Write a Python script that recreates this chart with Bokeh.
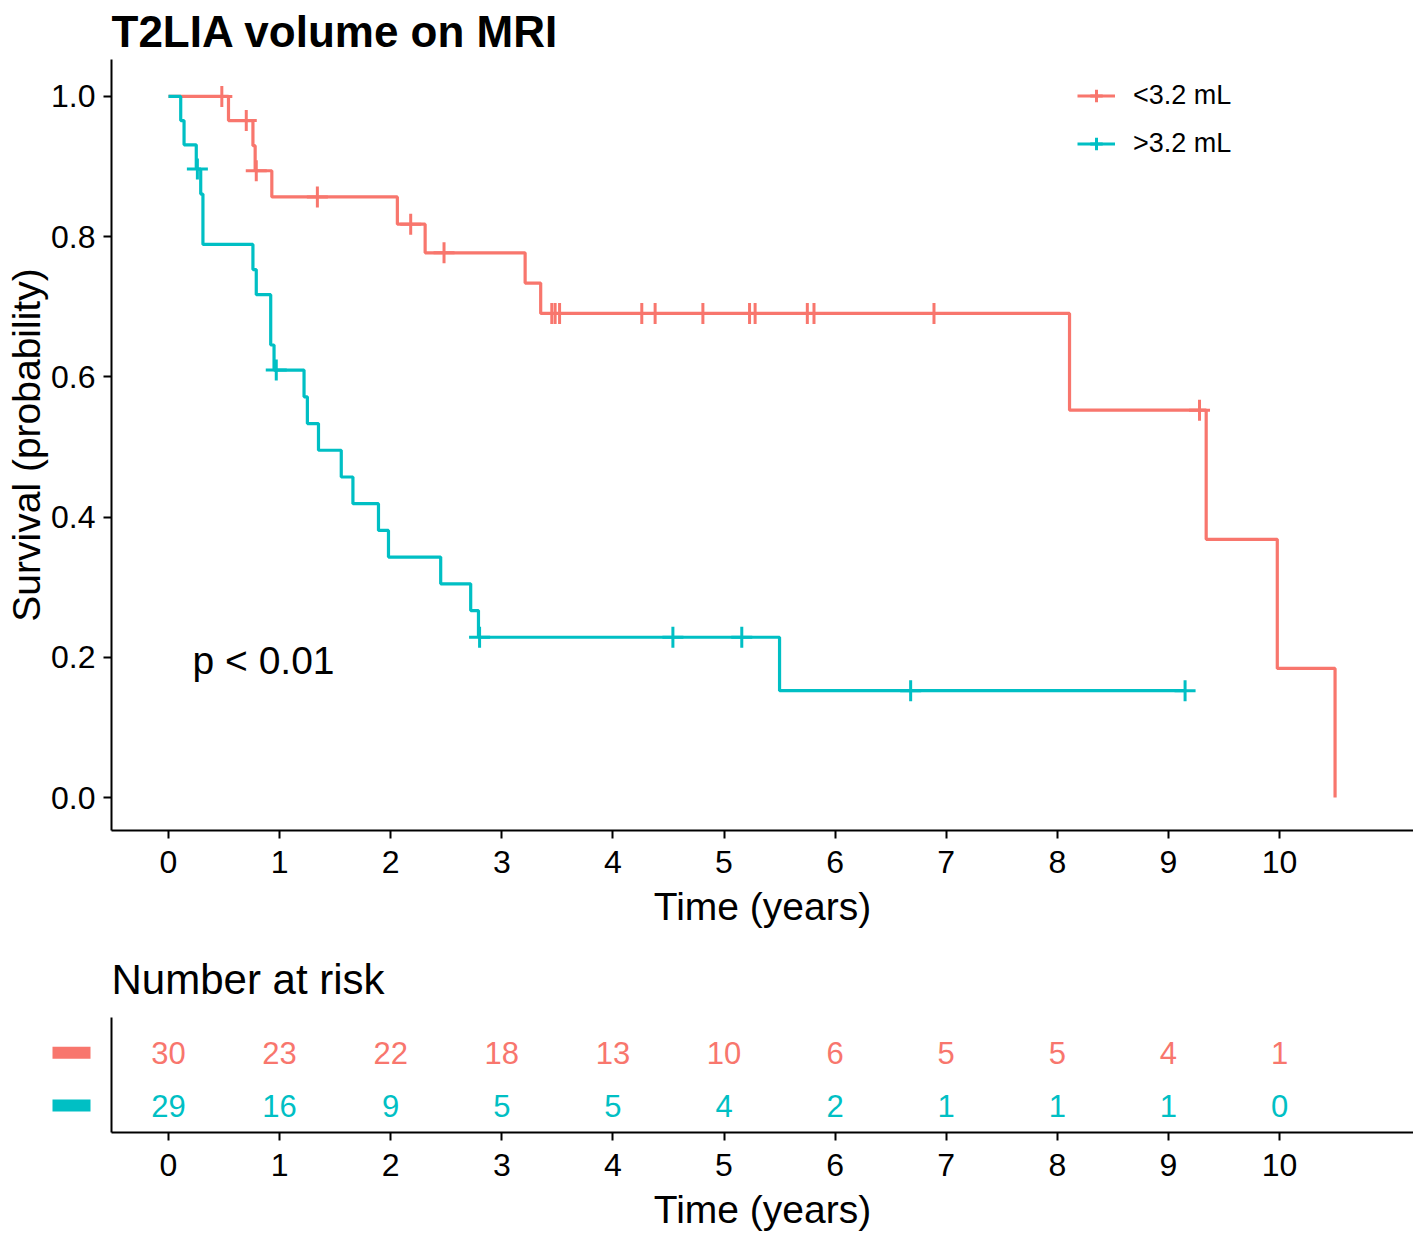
import numpy as np
from bokeh.plotting import figure
from bokeh.layouts import column, row
from bokeh.models import (Range1d, FixedTicker, Legend, LegendItem, Label,
                          PrintfTickFormatter)
from bokeh.embed import file_html
from bokeh.resources import INLINE
from bokeh.core.properties import value

# ---------------- data ----------------
groups = ["<3.2 mL", ">3.2 mL"]
colors = ["#F8766D", "#00BFC4"]

low_event_times = [0.54, 0.76, 0.78, 0.93, 2.06, 2.31, 3.21, 3.35, 8.11, 9.34, 9.98, 10.50]
low_censor_times = [0.48, 0.70, 0.79, 1.34, 2.18, 2.48, 3.45, 3.48, 3.52, 4.26, 4.38,
                    4.81, 5.23, 5.28, 5.75, 5.81, 6.89, 9.28]
high_event_times = [0.11, 0.14, 0.25, 0.29, 0.31, 0.31, 0.76, 0.79, 0.92, 0.92, 0.95,
                    1.22, 1.25, 1.35, 1.555, 1.66, 1.89, 1.98, 2.45, 2.72, 2.79, 5.50]
high_censor_times = [0.26, 0.97, 2.80, 4.54, 5.16, 6.68, 9.15]

risk_times = [0, 1, 2, 3, 4, 5, 6, 7, 8, 9, 10]
risk_low = [30, 23, 22, 18, 13, 10, 6, 5, 5, 4, 1]
risk_high = [29, 16, 9, 5, 5, 4, 2, 1, 1, 1, 0]

x_ticks = [0, 1, 2, 3, 4, 5, 6, 7, 8, 9, 10]
y_ticks = [0.0, 0.2, 0.4, 0.6, 0.8, 1.0]
p_value_text = "p < 0.01"
title_text = "T2LIA volume on MRI"
risk_title = "Number at risk"
x_label = "Time (years)"
y_label = "Survival (probability)"

FONT = "Liberation Sans"


def kaplan_meier(event_times, censor_times):
    ev = np.asarray(event_times, dtype=float)
    ce = np.asarray(censor_times, dtype=float)
    all_t = np.concatenate([ev, ce])
    xs, ys, s = [0.0], [1.0], 1.0
    for t in np.unique(ev):
        n = np.sum(all_t >= t)
        d = np.sum(ev == t)
        s *= 1.0 - d / n
        xs.append(float(t))
        ys.append(s)
    tmax = float(all_t.max())
    if tmax > xs[-1]:
        xs.append(tmax)
        ys.append(s)
    xs_arr = np.array(xs)
    cy = [ys[int(np.searchsorted(xs_arr, t, side="right")) - 1] for t in ce]
    return xs, ys, list(ce), cy


curves = [kaplan_meier(low_event_times, low_censor_times),
          kaplan_meier(high_event_times, high_censor_times)]
risks = [risk_low, risk_high]


def style_axis(ax, label_size="32px"):
    ax.axis_line_color = "black"
    ax.axis_line_width = 2
    ax.major_tick_line_color = "black"
    ax.major_tick_line_width = 2
    ax.major_tick_in = 0
    ax.major_tick_out = 8
    ax.minor_tick_line_color = None
    ax.major_label_text_font = FONT
    ax.major_label_text_font_size = label_size
    ax.major_label_text_color = "black"
    ax.major_label_standoff = 8
    ax.axis_label_text_font = FONT
    ax.axis_label_text_font_size = "39px"
    ax.axis_label_text_font_style = "normal"
    ax.axis_label_text_color = "black"


# ---------------- survival plot ----------------
xr = (-0.513, 11.206)
p = figure(width=1413, height=936, x_range=Range1d(*xr), y_range=Range1d(-0.047, 1.0527),
           output_backend="svg", toolbar_location=None,
           min_border_left=111, min_border_right=0, min_border_top=58, min_border_bottom=106,
           title=title_text)
p.title.text_font = FONT
p.title.text_font_size = "44px"
p.title.text_font_style = "bold"
p.title.text_color = "black"
p.title.align = "left"
p.title.standoff = 8
p.outline_line_color = None
p.xgrid.visible = False
p.ygrid.visible = False

style_axis(p.xaxis[0])
style_axis(p.yaxis[0])
p.xaxis[0].ticker = FixedTicker(ticks=x_ticks)
p.yaxis[0].ticker = FixedTicker(ticks=y_ticks)
p.yaxis[0].formatter = PrintfTickFormatter(format="%.1f")
p.xaxis[0].axis_label = x_label
p.yaxis[0].axis_label = y_label
p.xaxis[0].major_label_standoff = 12
p.xaxis[0].axis_label_standoff = 9
p.yaxis[0].axis_label_standoff = 0

items = []
for i, (xs, ys, cx, cy) in enumerate(curves):
    lr = p.step(x=xs, y=ys, mode="after", line_color=colors[i], line_width=3.2)
    sr = p.scatter(x=cx, y=cy, marker="cross", size=21, line_color=colors[i], line_width=3)
    items.append(LegendItem(label=groups[i], renderers=[lr, sr]))

legend = Legend(items=items, location=(966, 671), orientation="vertical",
                label_text_font=FONT, label_text_font_size="27px", label_text_color="black",
                glyph_width=38, glyph_height=31, label_height=31, spacing=17,
                label_standoff=18, padding=0, margin=0,
                border_line_color=None, background_fill_alpha=0)
p.add_layout(legend)

p.add_layout(Label(x=0.216, y=0.195, text=p_value_text, text_font=FONT,
                   text_font_size="39px", text_baseline="middle", text_align="left",
                   text_color="black"))

# ---------------- risk table ----------------
n = len(groups)
row_y = [n - i for i in range(n)]
ry = Range1d(0.49, 2.67)
SWATCH_W = 100
TOP_B, BOT_B = 81, 100
H2 = TOP_B + 116 + BOT_B

r = figure(width=11 + 1302, height=H2, x_range=Range1d(*xr), y_range=ry,
           output_backend="svg", toolbar_location=None,
           min_border_left=11, min_border_right=0, min_border_top=TOP_B, min_border_bottom=BOT_B,
           title=risk_title)
r.title.text_font = FONT
r.title.text_font_size = "42px"
r.title.text_font_style = "normal"
r.title.text_color = "black"
r.title.align = "left"
r.title.standoff = 29
r.outline_line_color = None
r.xgrid.visible = False
r.ygrid.visible = False

style_axis(r.xaxis[0])
style_axis(r.yaxis[0])
r.xaxis[0].ticker = FixedTicker(ticks=x_ticks)
r.xaxis[0].axis_label = x_label
r.xaxis[0].major_label_standoff = 13
r.xaxis[0].axis_label_standoff = 9
r.yaxis[0].ticker = FixedTicker(ticks=[])
r.yaxis[0].major_tick_out = 0
r.yaxis[0].major_label_standoff = 0
r.yaxis[0].major_label_text_font_size = "0px"

for i in range(n):
    r.text(x=risk_times, y=[row_y[i]] * len(risk_times), text=[str(v) for v in risks[i]],
           text_color=colors[i], text_align="center", text_baseline="middle",
           text_font=value(FONT), text_font_size=value("31px"))

# strata colour keys, left of the table (same rows / y-range)
k = figure(width=SWATCH_W, height=H2, x_range=Range1d(0, 1), y_range=ry,
           output_backend="svg", toolbar_location=None,
           min_border_left=0, min_border_right=0, min_border_top=TOP_B, min_border_bottom=BOT_B)
k.outline_line_color = None
k.xgrid.visible = False
k.ygrid.visible = False
k.yaxis.visible = False
style_axis(k.xaxis[0])
k.xaxis[0].ticker = FixedTicker(ticks=[0.5])
k.xaxis[0].axis_label = " "
k.xaxis[0].major_label_standoff = 13
k.xaxis[0].axis_label_standoff = 9
k.xaxis[0].axis_line_alpha = 0
k.xaxis[0].major_tick_line_alpha = 0
k.xaxis[0].major_label_text_alpha = 0
k.xaxis[0].axis_label_text_alpha = 0
k.rect(x=[0.71] * n, y=row_y, width=38, height=12, width_units="screen",
       height_units="screen", fill_color=colors, line_color=None)

layout = column(p, row(k, r))
open("out.html", "w").write(file_html(layout, INLINE))
